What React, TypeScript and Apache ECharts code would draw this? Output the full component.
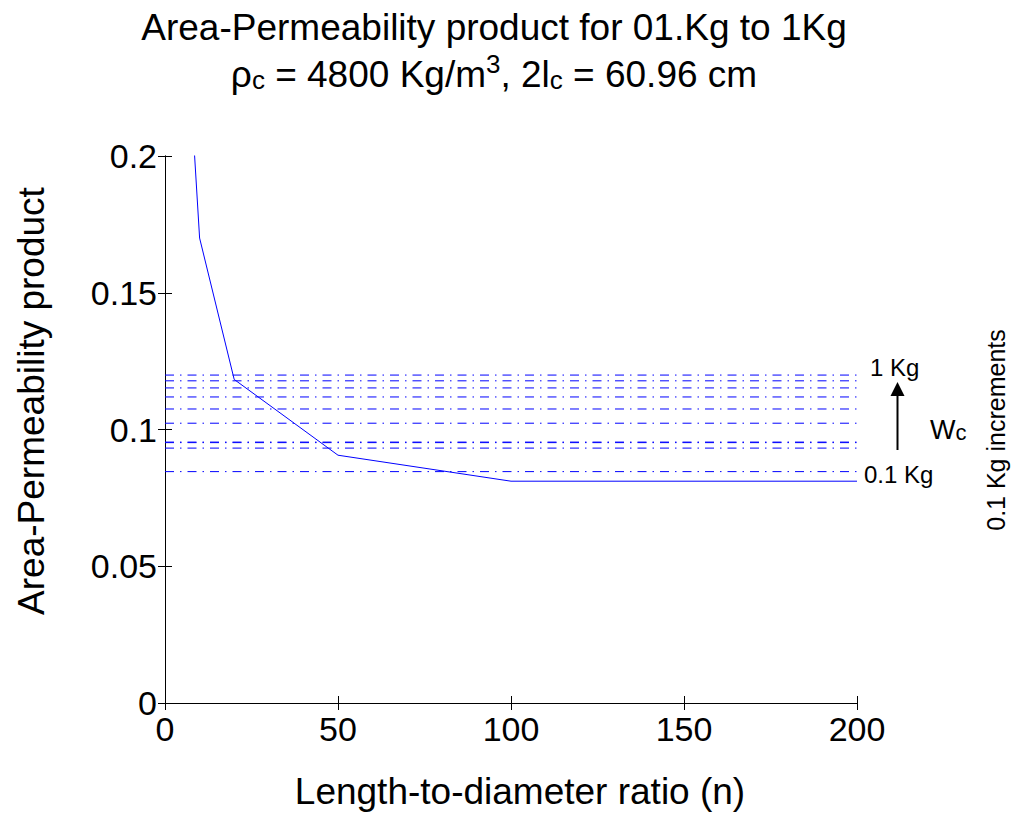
import React, { useEffect, useRef } from "react";
import * as echarts from "echarts";

const nValues = [5, 10, 20, 50, 100, 200];
const apValues = [0.274, 0.17, 0.1183, 0.0906, 0.0811, 0.0811];
const levelValues = [0.0846, 0.0932, 0.0952, 0.0954, 0.1023, 0.1075, 0.1119, 0.1152, 0.1178, 0.1199];
const xRange = [0, 200];
const yTicks = [0, 0.05, 0.1, 0.15, 0.2];

const FONT = "'Liberation Sans', Arial, Helvetica, sans-serif";

export default function App() {
  const ref = useRef<HTMLDivElement>(null);
  useEffect(() => {
    if (!ref.current) return;
    const chart = echarts.init(ref.current, null, { renderer: "svg" });
    const levelSeries = levelValues.map((v, i) => ({
      type: "line",
      name: "level" + i,
      data: xRange.map((x) => [x, v]),
      symbol: "none",
      lineStyle: { color: "#0000ff", width: 1, type: [9, 6, 1.5, 6] },
      silent: true,
      z: 2,
    }));
    const axisCommon = {
      axisLine: { show: true, lineStyle: { color: "#000", width: 1 } },
      axisTick: { show: true, inside: true, length: 7, lineStyle: { color: "#000" } },
      splitLine: { show: false },
    };
    chart.setOption({
      animation: false,
      textStyle: { fontFamily: FONT },
      grid: { left: 165, right: 164, top: 156, bottom: 110, containLabel: false },
      xAxis: [
        {
          type: "value", min: 0, max: 200, interval: 50, position: "bottom",
          ...axisCommon,
          axisLabel: { color: "#000", fontSize: 34, fontFamily: FONT, margin: 9 },
        },
        {
          type: "value", min: 0, max: 200, interval: 50, position: "top",
          ...axisCommon, axisLabel: { show: false },
        },
      ],
      yAxis: [
        {
          type: "value", min: 0, max: 0.2, interval: 0.05, position: "left",
          ...axisCommon,
          axisLabel: {
            color: "#000", fontSize: 34, fontFamily: FONT, margin: 8,
            formatter: (v: number) => {
              const t = yTicks.find((k) => Math.abs(k - v) < 1e-9);
              return String(t !== undefined ? t : v);
            },
          },
        },
        {
          type: "value", min: 0, max: 0.2, interval: 0.05, position: "right",
          ...axisCommon, axisLabel: { show: false },
        },
      ],
      series: [
        ...levelSeries,
        {
          type: "line",
          name: "Ap",
          data: nValues.map((n, i) => [n, apValues[i]]),
          symbol: "none",
          lineStyle: { color: "#0000ff", width: 1 },
          clip: true,
          z: 3,
        },
      ],
      graphic: [
        {
          type: "text", x: 494, y: 27,
          style: {
            text: "Area-Permeability product for 01.Kg to 1Kg",
            fontSize: 37, lineHeight: 37, fontFamily: FONT, fill: "#000", align: "center", verticalAlign: "middle",
          },
        },
        {
          type: "text", x: 494, y: 72,
          style: {
            text: "{n|ρ}{s|c}{n| = 4800 Kg/m}{p|3}{n|, 2l}{s|c}{n| = 60.96 cm}",
            fontFamily: FONT, fill: "#000", align: "center", verticalAlign: "middle",
            rich: {
              n: { fontSize: 37, fontFamily: FONT, fill: "#000", verticalAlign: "bottom", lineHeight: 42 },
              s: { fontSize: 26, fontFamily: FONT, fill: "#000", verticalAlign: "bottom", lineHeight: 42 },
              p: { fontSize: 26, fontFamily: FONT, fill: "#000", verticalAlign: "top", lineHeight: 42 },
            },
          },
        },
        {
          type: "text", x: 31, y: 401, rotation: Math.PI / 2,
          style: {
            text: "Area-Permeability product", fontSize: 37, fontFamily: FONT, fill: "#000",
            align: "center", verticalAlign: "middle",
          },
        },
        {
          type: "text", x: 520, y: 791,
          style: {
            text: "Length-to-diameter ratio (n)", fontSize: 37, fontFamily: FONT, fill: "#000",
            align: "center", verticalAlign: "middle",
          },
        },
        {
          type: "text", x: 870, y: 367,
          style: { text: "1 Kg", fontSize: 24, fontFamily: FONT, fill: "#000", align: "left", verticalAlign: "middle" },
        },
        {
          type: "text", x: 864, y: 474,
          style: { text: "0.1 Kg", fontSize: 24, fontFamily: FONT, fill: "#000", align: "left", verticalAlign: "middle" },
        },
        {
          type: "line",
          shape: { x1: 897.5, y1: 450, x2: 897.5, y2: 392 },
          style: { stroke: "#000", lineWidth: 2 },
        },
        {
          type: "polygon",
          shape: { points: [[897.5, 382], [890.5, 396], [904.5, 396]] },
          style: { fill: "#000" },
        },
        {
          type: "text", x: 930, y: 428,
          style: {
            text: "{w|W}{c|c}", fontFamily: FONT, fill: "#000", align: "left", verticalAlign: "middle",
            rich: {
              w: { fontSize: 27, fontFamily: FONT, fill: "#000", verticalAlign: "bottom", lineHeight: 30 },
              c: { fontSize: 22, fontFamily: FONT, fill: "#000", verticalAlign: "bottom", lineHeight: 30 },
            },
          },
        },
        {
          type: "text", x: 996, y: 430, rotation: Math.PI / 2,
          style: {
            text: "0.1 Kg increments", fontSize: 25, fontFamily: FONT, fill: "#000",
            align: "center", verticalAlign: "middle",
          },
        },
      ],
    });
    return () => chart.dispose();
  }, []);
  return <div ref={ref} style={{ width: 1021, height: 813, position: "absolute", left: 0, top: 0, background: "#fff" }} />;
}
